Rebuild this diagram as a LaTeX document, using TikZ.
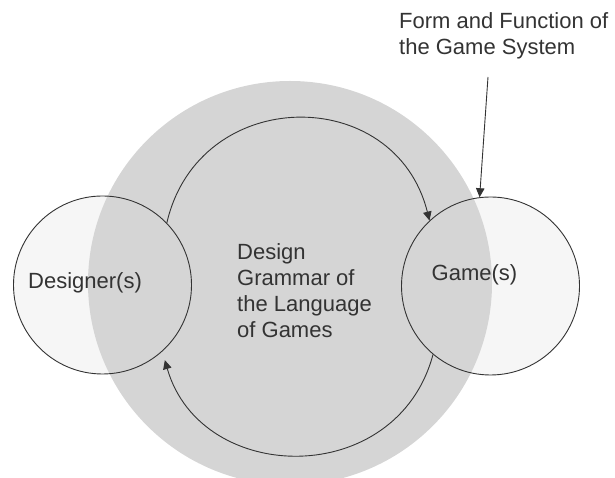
\documentclass[tikz,border=0pt]{standalone}
\usepackage{fontspec}
\setmainfont{Liberation Sans}
\usetikzlibrary{arrows.meta,backgrounds}
\definecolor{ink}{HTML}{333333}
\definecolor{fog}{HTML}{D5D5D5}
\definecolor{pale}{HTML}{F6F6F6}
\tikzset{
    %Define standard arrow tip
    >={Triangle[length=9pt,width=8.5pt]},
    %Define style for the two outer circles
    agent/.style={
           circle,
           draw=ink, line width=0.9pt,
           minimum size=178pt,
           inner sep=0pt},
    %Define style for the big grey circle
    greyfield/.style={
           circle,
           fill=fog,
           minimum size=404pt,
           inner sep=0pt},
    %Define style for texts
    caption/.style={
           text=ink,
           font=\fontsize{22}{26}\selectfont,
           align=left,
           inner sep=0pt},
    % Define arrow style
    flow/.style={
           ->,
           draw=ink,
           line width=0.9pt}
}

\begin{document}
\begin{tikzpicture}[x=1pt,y=1pt]
\useasboundingbox (0,0) rectangle (615,478);
\node[agent](designer) at (102.5,193){};
\node[agent](game) at (490.5,192){};
\begin{scope}[on background layer]
\fill[pale] (designer.center) circle (89pt);
\fill[pale] (game.center) circle (89pt);
\node[greyfield](grammar) at (290,195){};
\end{scope}
\node[caption](designertext) at (85,195){Designer(s)};
\node[caption](gametext) at (474.5,203){Game(s)};
\node[caption, anchor=west](grammartext) at (237,187){Design\\Grammar of\\the Language\\of Games};
\node[caption, anchor=west](form) at (399,442.5){Form and Function of\\the Game System};
\coordinate (formtail) at (488,401);
\draw[flow] (designer.44) to[out=77,in=104,looseness=1.38] (game.133);
\draw[flow, shorten >=9pt] (game.230) to[out=-105,in=-74,looseness=1.32] (designer.-48);
\draw[flow] (formtail) -- (game.97);
\end{tikzpicture}
\end{document}
